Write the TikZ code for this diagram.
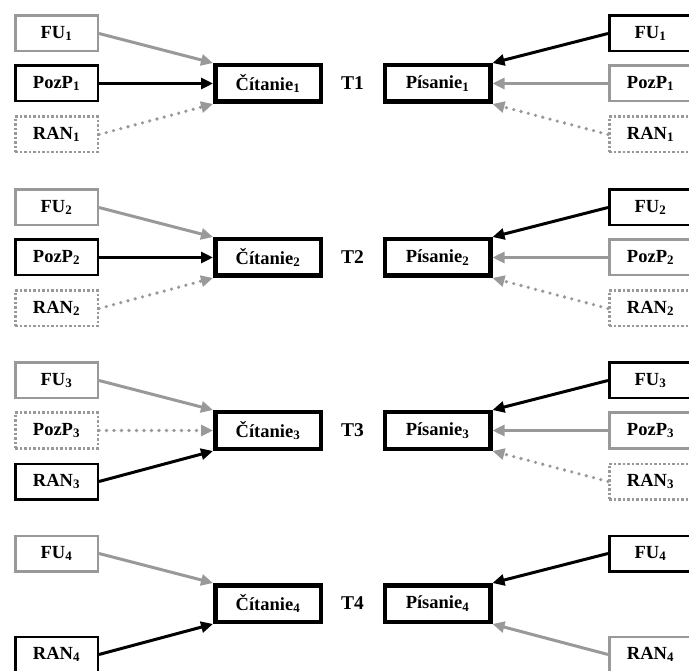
\documentclass[tikz,border=0pt]{standalone}
\usepackage{fontspec}
\setmainfont{Liberation Serif}
\usetikzlibrary{arrows.meta}
\definecolor{lgray}{gray}{0.6}
\newcommand{\ix}[1]{\textsubscript{#1}}

\begin{document}
\begin{tikzpicture}[
    every node/.style={font=\fontsize{18.5}{22}\selectfont\bfseries},
    src/.style={draw,line width=2.5pt,minimum width=82.5pt,minimum height=35.5pt,inner sep=0pt},
    srcg/.style={src,draw=lgray},
    srcd/.style={src,draw=lgray,dash pattern=on 2.5pt off 2pt},
    tgt/.style={draw,line width=4.5pt,minimum width=105.5pt,minimum height=36.5pt,inner sep=0pt},
    tlab/.style={font=\fontsize{19.5}{22}\selectfont\bfseries},
    arr/.style={-{Triangle[length=12pt,width=11pt]},line width=3pt},
    arrg/.style={arr,lgray},
    arrd/.style={arrg,line width=3.6pt,line cap=round,dash pattern=on 0pt off 7.5pt},
    x=1pt,y=-1pt,
  ]
    \useasboundingbox (0,0) rectangle (689,671);

    % Citanie / Pisanie with the FU boxes, all four times
    \foreach \i/\y in {1/83.5,2/257.5,3/430.5,4/603.5}{
      \node[tgt]  (cit\i) at (268,\y)      {Čítanie\ix{\i}};
      \node[tlab] (t\i)   at (352.5,\y)    {T\i};
      \node[tgt]  (pis\i) at (437.5,\y)    {Písanie\ix{\i}};
      \node[srcg] (fuL\i) at (56.5,\y-50)  {FU\ix{\i}};
      \node[src]  (fuR\i) at (650.5,\y-50) {FU\ix{\i}};
      \draw[arrg] (fuL\i.east) -- (cit\i.north west);
      \draw[arr]  (fuR\i.west) -- (pis\i.north east);
    }

    % left side, T1 and T2
    \foreach \i/\y in {1/83.5,2/257.5}{
      \node[src]  (pozL\i) at (56.5,\y)    {PozP\ix{\i}};
      \node[srcd] (ranL\i) at (56.5,\y+51) {RAN\ix{\i}};
      \draw[arr]  (pozL\i) -- (cit\i);
      \draw[arrd] (ranL\i.east) -- (cit\i.south west);
    }
    % left side, T3
    \node[srcd] (pozL3) at (56.5,430.5) {PozP\ix{3}};
    \node[src]  (ranL3) at (56.5,481.5) {RAN\ix{3}};
    \draw[arrd] (pozL3) -- (cit3);
    \draw[arr]  (ranL3.east) -- (cit3.south west);
    % left side, T4
    \node[src]  (ranL4) at (56.5,654.5) {RAN\ix{4}};
    \draw[arr]  (ranL4.east) -- (cit4.south west);

    % right side, T1 to T3
    \foreach \i/\y in {1/83.5,2/257.5,3/430.5}{
      \node[srcg] (pozR\i) at (650.5,\y)    {PozP\ix{\i}};
      \node[srcd] (ranR\i) at (650.5,\y+51) {RAN\ix{\i}};
      \draw[arrg] (pozR\i) -- (pis\i);
      \draw[arrd] (ranR\i.west) -- (pis\i.south east);
    }
    % right side, T4
    \node[srcg] (ranR4) at (650.5,654.5) {RAN\ix{4}};
    \draw[arrg] (ranR4.west) -- (pis4.south east);
  \end{tikzpicture}
\end{document}
